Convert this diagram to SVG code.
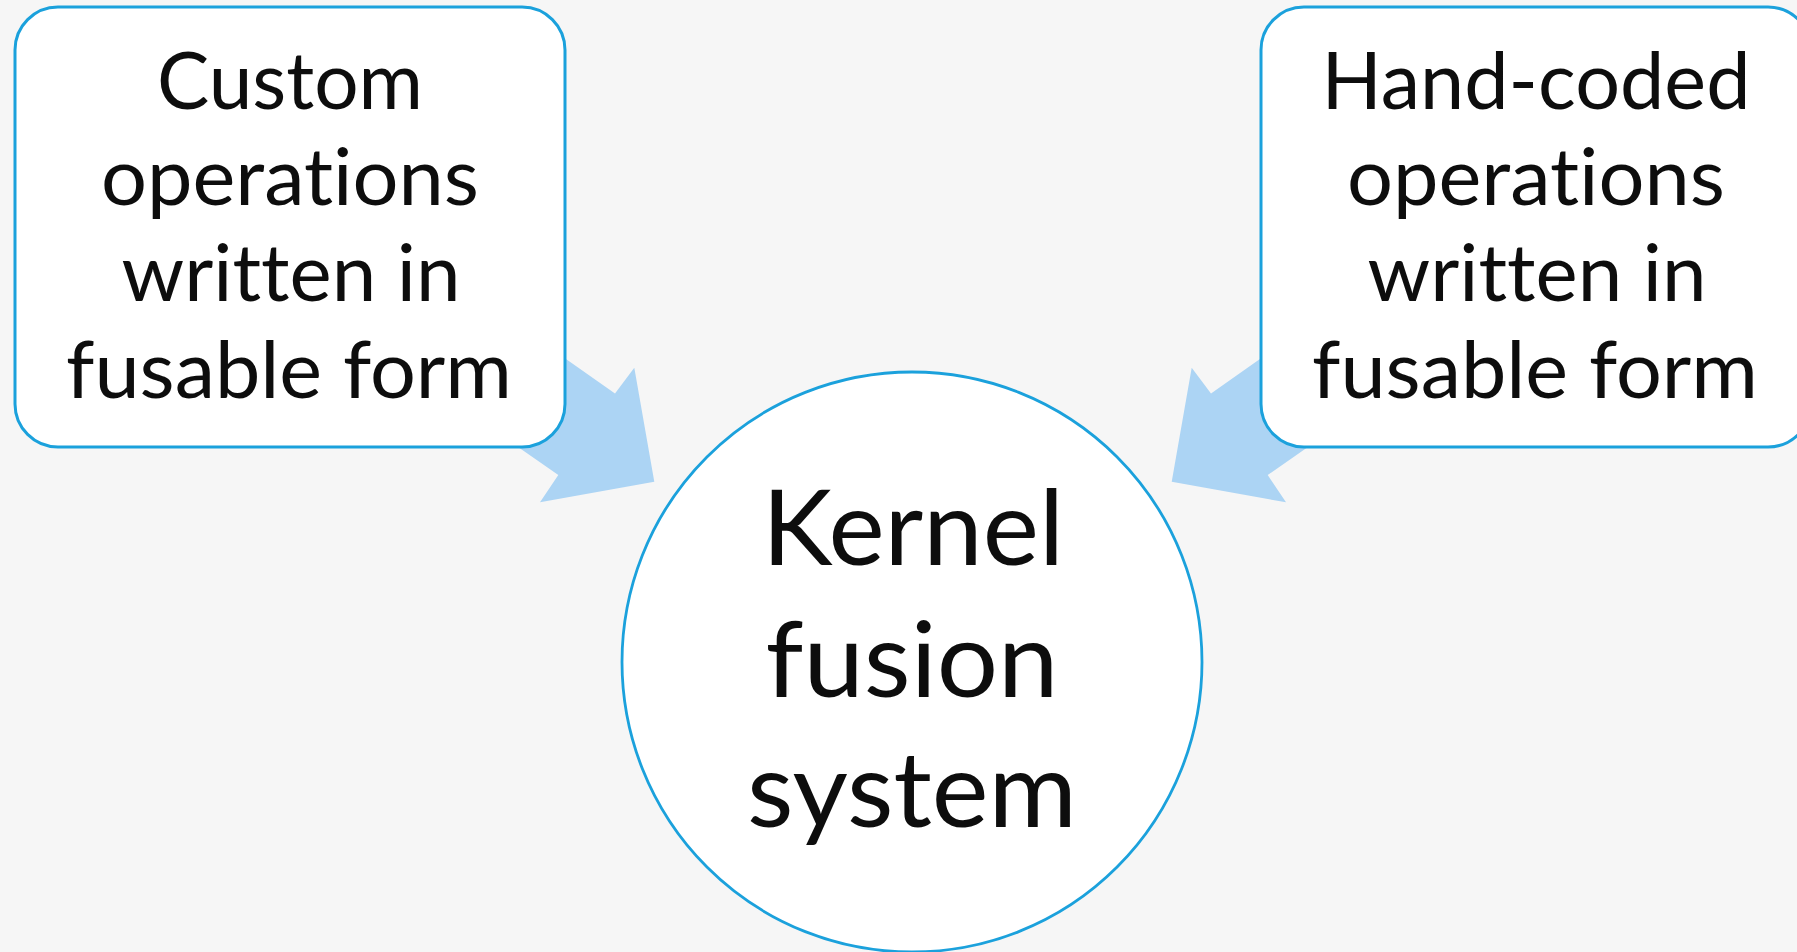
<svg xmlns="http://www.w3.org/2000/svg" width="1797" height="952" viewBox="0 0 1797 952">
<style>
.bg{fill:#f6f6f6}
.box{fill:#ffffff;stroke:#1ba1dc;stroke-width:3}
.circ{fill:#ffffff;stroke:#1ba1dc;stroke-width:2.8}
.arrow{fill:#acd4f4;stroke:none}
.t{font-family:Lato,"Open Sans","Liberation Sans",sans-serif;fill:#0d0d0d;text-anchor:middle;font-variant-ligatures:none;font-feature-settings:"liga" 0,"clig" 0}
.bt{font-size:80px}
.ct{font-size:104px}
</style>
<rect class="bg" x="0" y="0" width="1797" height="952"/>
<g id="connectors">
<polygon class="arrow" points="492,307 615,393.5 634.3,367.7 654.3,481.7 540,502.3 558.3,475 435,389"/>
<polygon class="arrow" points="1334,307 1211,393.5 1191.7,367.7 1171.7,481.7 1286,502.3 1267.7,475 1391,389"/>
</g>
<g id="node-custom">
<rect class="box" x="15" y="7" width="550" height="440" rx="43" ry="43"/>
<text class="t bt" x="290" y="109" textLength="266" lengthAdjust="spacingAndGlyphs">Custom</text>
<text class="t bt" x="290" y="205" textLength="378" lengthAdjust="spacingAndGlyphs">operations</text>
<text class="t bt" x="291" y="301" textLength="339" lengthAdjust="spacingAndGlyphs">written in</text>
<text class="t bt" x="289" y="398" textLength="446" lengthAdjust="spacingAndGlyphs">fusable form</text>
</g>
<g id="node-handcoded">
<rect class="box" x="1261" y="7" width="550" height="440" rx="43" ry="43"/>
<text class="t bt" x="1536" y="109" textLength="429" lengthAdjust="spacingAndGlyphs">Hand-coded</text>
<text class="t bt" x="1536" y="205" textLength="378" lengthAdjust="spacingAndGlyphs">operations</text>
<text class="t bt" x="1537" y="301" textLength="339" lengthAdjust="spacingAndGlyphs">written in</text>
<text class="t bt" x="1535" y="398" textLength="446" lengthAdjust="spacingAndGlyphs">fusable form</text>
</g>
<g id="node-kernel">
<circle class="circ" cx="912" cy="662" r="290"/>
<text class="t ct" x="913" y="565" textLength="302" lengthAdjust="spacingAndGlyphs">Kernel</text>
<text class="t ct" x="912" y="697" textLength="293" lengthAdjust="spacingAndGlyphs">fusion</text>
<text class="t ct" x="912" y="827" textLength="330" lengthAdjust="spacingAndGlyphs">system</text>
</g>
</svg>
